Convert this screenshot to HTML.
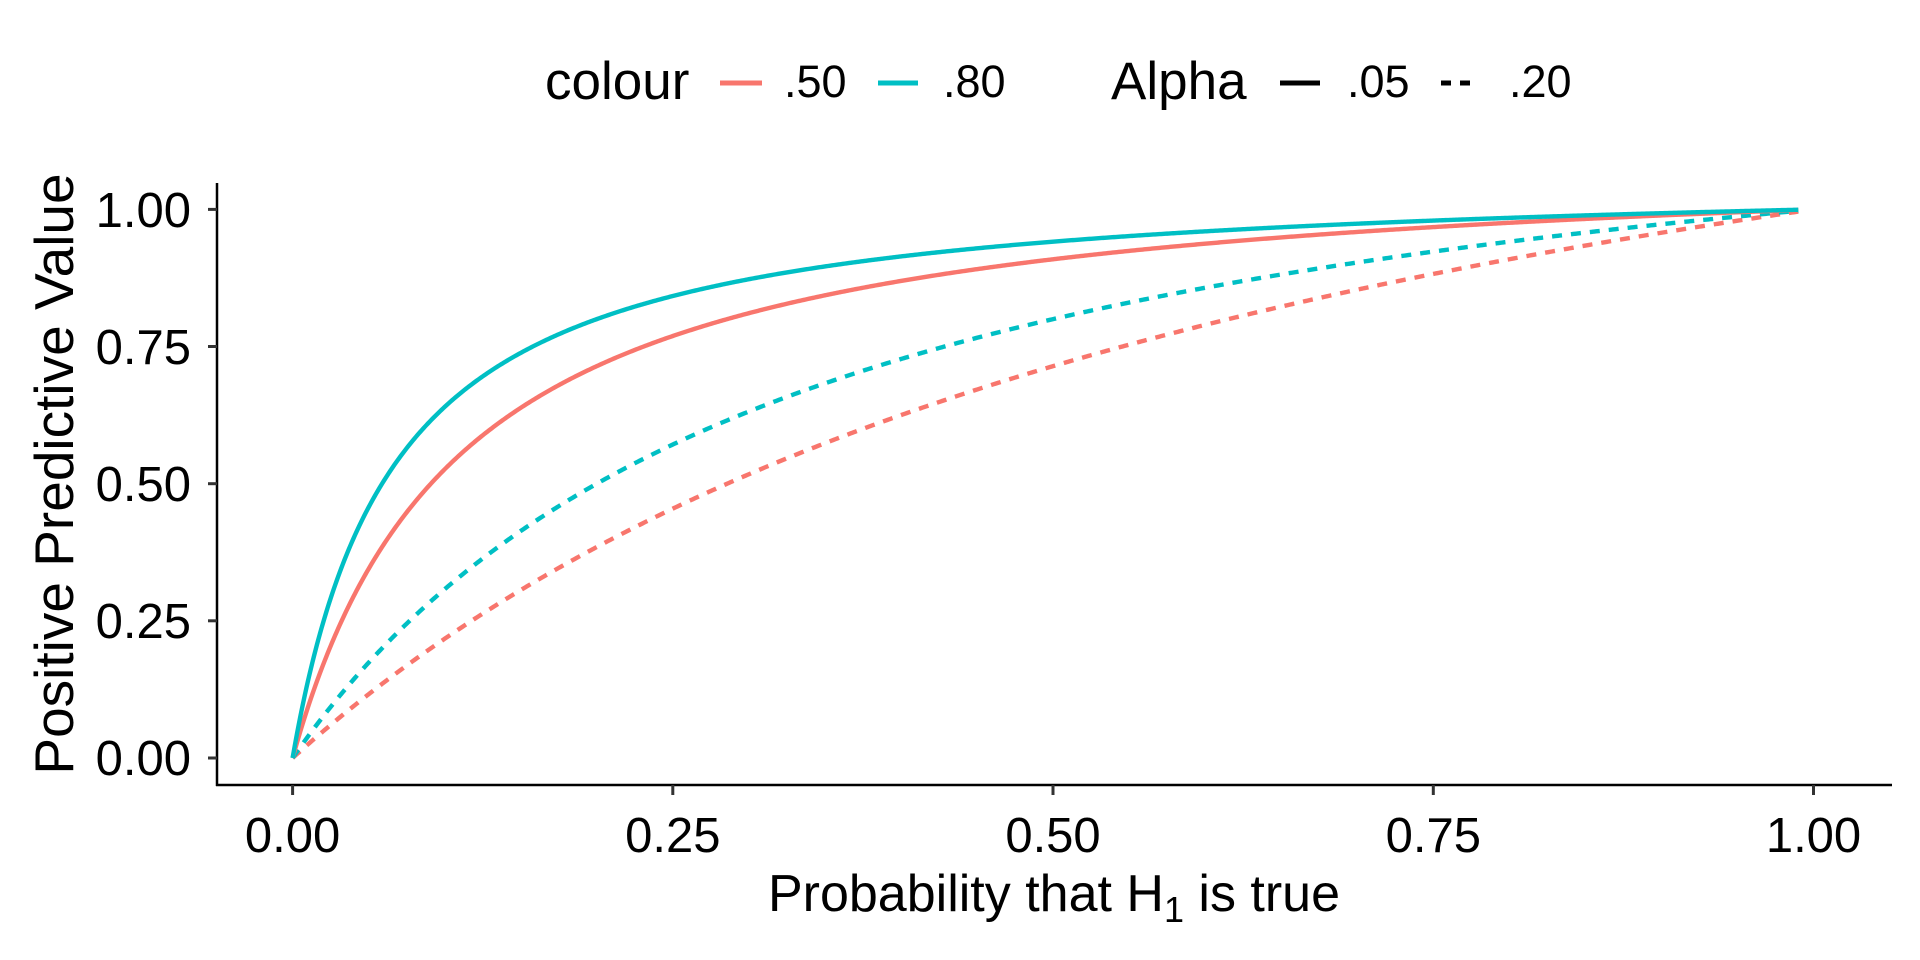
<!DOCTYPE html>
<html><head><meta charset="utf-8"><style>
html,body{margin:0;padding:0;background:#fff;}
svg{display:block;font-family:"Liberation Sans",sans-serif;}
</style></head><body>
<svg id="s" width="1920" height="960" xmlns="http://www.w3.org/2000/svg">
<rect width="1920" height="960" fill="#fff"/>
<line x1="217" y1="183" x2="217" y2="786" stroke="#000" stroke-width="2.5"/>
<line x1="216" y1="785" x2="1892" y2="785" stroke="#000" stroke-width="2.5"/>
<g stroke="#333" stroke-width="3">
<line x1="208" y1="209.4" x2="217" y2="209.4"/>
<line x1="208" y1="346.5" x2="217" y2="346.5"/>
<line x1="208" y1="483.7" x2="217" y2="483.7"/>
<line x1="208" y1="620.8" x2="217" y2="620.8"/>
<line x1="208" y1="758" x2="217" y2="758"/>
<line x1="292.6" y1="785" x2="292.6" y2="795"/>
<line x1="672.8" y1="785" x2="672.8" y2="795"/>
<line x1="1053" y1="785" x2="1053" y2="795"/>
<line x1="1433.3" y1="785" x2="1433.3" y2="795"/>
<line x1="1813.5" y1="785" x2="1813.5" y2="795"/>
</g>
<g font-size="49" fill="#000" text-anchor="end">
<text x="191" y="227">1.00</text>
<text x="191" y="364">0.75</text>
<text x="191" y="501">0.50</text>
<text x="191" y="638">0.25</text>
<text x="191" y="775">0.00</text>
</g>
<g font-size="49" fill="#000" text-anchor="middle">
<text x="292.6" y="852">0.00</text>
<text x="672.8" y="852">0.25</text>
<text x="1053" y="852">0.50</text>
<text x="1433.3" y="852">0.75</text>
<text x="1813.5" y="852">1.00</text>
</g>
<text x="1054" y="911" font-size="52" text-anchor="middle">Probability that H<tspan font-size="36" dy="11">1</tspan><tspan dy="-11"> is true</tspan></text>
<text transform="translate(73,474) rotate(-90)" font-size="55" text-anchor="middle">Positive Predictive Value</text>
<text x="545" y="99" font-size="53">colour</text>
<line x1="720" y1="83" x2="762" y2="83" stroke="#F8766D" stroke-width="5"/>
<text x="784" y="97" font-size="45">.50</text>
<line x1="878" y1="83" x2="918" y2="83" stroke="#00BFC4" stroke-width="5"/>
<text x="943" y="97" font-size="45">.80</text>
<text x="1111" y="99" font-size="53">Alpha</text>
<line x1="1280" y1="83" x2="1320" y2="83" stroke="#000" stroke-width="5"/>
<text x="1347" y="97" font-size="45">.05</text>
<line x1="1441" y1="83" x2="1472" y2="83" stroke="#000" stroke-width="5" stroke-dasharray="10 9"/>
<text x="1509" y="97" font-size="45">.20</text>
<g id="curves" fill="none" stroke-width="4.4"></g>
</svg>
<script>
var g=document.getElementById('curves');
var sets=[[0.5,0.2,'#F8766D',true],[0.8,0.2,'#00BFC4',true],[0.5,0.05,'#F8766D',false],[0.8,0.05,'#00BFC4',false]];
sets.forEach(function(s){
 var d='';
 for(var i=0;i<=990;i++){var p=i/1000;var v=s[0]*p/(s[0]*p+s[1]*(1-p));
  var x=292.6+p*1520.9,y=758-v*548.6;d+=(i?'L':'M')+x.toFixed(2)+','+y.toFixed(2);}
 var el=document.createElementNS('http://www.w3.org/2000/svg','path');
 el.setAttribute('d',d);el.setAttribute('stroke',s[2]);
 if(s[3])el.setAttribute('stroke-dasharray','10 9');
 g.appendChild(el);
});
</script>
</body></html>
